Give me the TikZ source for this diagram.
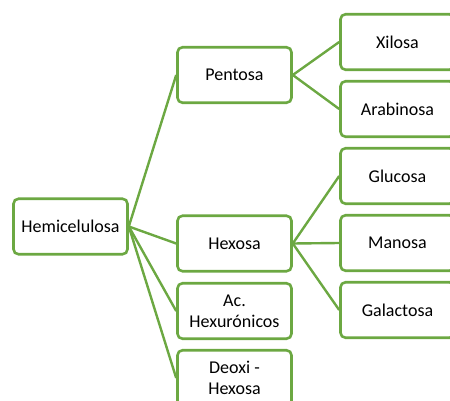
\documentclass[tikz,border=0pt]{standalone}
\usepackage{fontspec}
\setmainfont{Carlito}
\usepackage{xcolor}
\usepackage{tikz}
\usetikzlibrary{positioning, calc}
\definecolor{treegreen}{RGB}{108,168,66}
\tikzset{
  sugar/.style={
    rectangle, rounded corners=5pt, minimum width=114pt, minimum height=55.5pt,
    draw=treegreen, line width=2.6pt, fill=white, align=center,
    font=\fontsize{18}{21}\selectfont, text=black, inner sep=2pt
  },
  branch/.style={line width=2.4pt, color=treegreen}
}
\begin{document}
\begin{tikzpicture}[x=1pt, y=-1pt]
  \useasboundingbox (0,0) rectangle (450,401);
  \clip (0,0) rectangle (450,401);

  % Root
  \node[sugar] (hemi) at (70.5, 226.5) {Hemicelulosa};

  % Second level
  \node[sugar] (pentosa) at (234.5, 75) {Pentosa};
  \node[sugar] (hexosa) at (234.5, 243.5) {Hexosa};
  \node[sugar] (acido) at (234.5, 311) {Ac.\\Hexurónicos};
  \node[sugar] (deoxi) at (234.5, 378) {Deoxi -\\Hexosa};

  % Leaves
  \node[sugar] (xilosa) at (397.5, 42) {Xilosa};
  \node[sugar] (arabinosa) at (397.5, 109) {Arabinosa};
  \node[sugar] (glucosa) at (397.5, 176) {Glucosa};
  \node[sugar] (manosa) at (397.5, 243) {Manosa};
  \node[sugar] (galactosa) at (397.5, 310) {Galactosa};

  % Connectors
  \foreach \kid in {pentosa, hexosa, acido, deoxi}
    \draw[branch] (hemi.east) -- (\kid.west);
  \foreach \kid in {xilosa, arabinosa}
    \draw[branch] (pentosa.east) -- (\kid.west);
  \foreach \kid in {glucosa, manosa, galactosa}
    \draw[branch] (hexosa.east) -- (\kid.west);
\end{tikzpicture}
\end{document}
